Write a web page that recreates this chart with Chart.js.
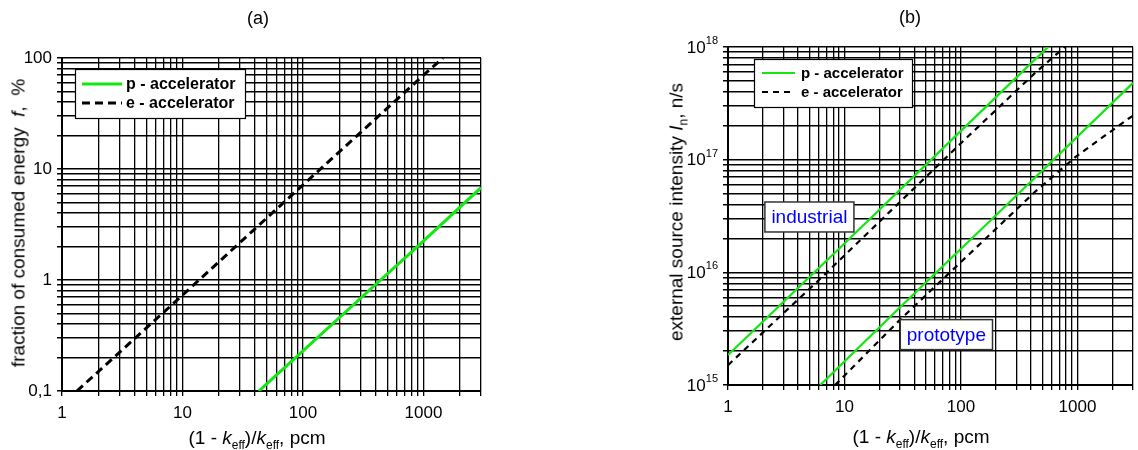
<!DOCTYPE html>
<html><head><meta charset="utf-8">
<script src="https://cdn.jsdelivr.net/npm/chart.js@4/dist/chart.umd.min.js"></script>
<style>
html,body{margin:0;padding:0;background:#fff;overflow:hidden;}
body{width:1138px;height:450px;position:relative;font-family:"Liberation Sans",Arial,sans-serif;}
.cw{position:absolute;top:0;height:450px;}
#wa{left:0;width:560px;}
#wb{left:560px;width:580px;}
.t{position:absolute;white-space:nowrap;color:#000;font-size:19px;line-height:1;transform:translate(-50%,-50%);}
.rot{transform:translate(-50%,-50%) rotate(-90deg);}
.sub{font-size:12px;position:relative;top:5px;}
</style></head><body>
<div class="cw" id="wa"><canvas id="ca" width="560" height="450"></canvas></div>
<div class="cw" id="wb"><canvas id="cb" width="580" height="450"></canvas></div>
<div class="t" style="left:258px;top:18px;font-size:18px;">(a)</div>
<div class="t" style="left:910px;top:17px;font-size:18px;">(b)</div>
<div class="t" style="left:257px;top:437px;">(1 - <i>k</i><span class="sub">eff</span>)/<i>k</i><span class="sub">eff</span>, pcm</div>
<div class="t" style="left:921px;top:436px;">(1 - <i>k</i><span class="sub">eff</span>)/<i>k</i><span class="sub">eff</span>, pcm</div>
<div class="t rot" style="left:17.5px;top:223px;">fraction of consumed energy&nbsp; <i>f</i>,&nbsp; %</div>
<div class="t rot" style="left:675.5px;top:212px;">external source intensity <i>I</i><span class="sub">n</span>, n/s</div>
<script>
// ---------------- data ----------------
const aXTickValues = [1, 10, 100, 1000];
const aXTickLabels = ['1', '10', '100', '1000'];
const aYTickValues = [0.1, 1, 10, 100];
const aYTickLabels = ['0,1', '1', '10', '100'];
const bXTickValues = [1, 10, 100, 1000];
const bXTickLabels = ['1', '10', '100', '1000'];
const bYTickValues = [1e15, 1e16, 1e17, 1e18];
const bYTickExponents = ['15', '16', '17', '18'];

const seriesNames = ['p - accelerator', 'e - accelerator'];

// (a) fraction of consumed energy f, %
const aP_x = [43, 100, 440, 828, 3000];
const aP_y = [0.1, 0.23, 1.0, 1.86, 6.8];
const aE_x = [1.33, 10, 100, 1000, 1450];
const aE_y = [0.1, 0.73, 7.2, 70, 100];

// (b) external source intensity, n/s
const bIndP_x = [1, 10, 100, 559];
const bIndP_y = [1.85e15, 1.8e16, 1.8e17, 1e18];
const bIndE_x = [1, 6, 100, 434, 777];
const bIndE_y = [1.5e15, 8.5e15, 1.4e17, 5.9e17, 1e18];
const bProtoP_x = [6.2, 30, 300, 3000];
const bProtoP_y = [1e15, 4.9e15, 4.8e16, 4.8e17];
const bProtoE_x = [8.3, 30, 434, 977, 2755, 3000];
const bProtoE_y = [1e15, 3.8e15, 5.2e16, 1.07e17, 2.32e17, 2.45e17];

const bAnnotTexts = ['industrial', 'prototype'];
const bAnnotX = [5.0, 75];
const bAnnotY = [3.1e16, 2.8e15];

// ---------------- helpers ----------------
const FONT = '"Liberation Sans", Arial, sans-serif';
const GREEN = '#10e810';

function pts(xs, ys) { return xs.map((x, i) => ({ x: x, y: ys[i] })); }

function logTicks(min, max) {
  const out = [];
  let d = Math.pow(10, Math.floor(Math.log10(min) + 1e-9));
  while (d <= max * 1.0001) {
    for (let m = 1; m <= 9; m++) {
      const v = +(m * d).toPrecision(6);
      if (v >= min * 0.9999 && v <= max * 1.0001) out.push(v);
    }
    d *= 10;
  }
  return out;
}
function labelFor(v, vals, labs) {
  for (let i = 0; i < vals.length; i++) {
    if (Math.abs(Math.log10(v) - Math.log10(vals[i])) < 1e-6) return labs[i];
  }
  return '';
}

function scaleCfg(axis, min, max, vals, labs, fixedSize, gridW) {
  return {
    type: 'logarithmic',
    position: axis === 'x' ? 'bottom' : 'left',
    min: min, max: max,
    afterBuildTicks: s => { s.ticks = logTicks(min, max).map(v => ({ value: v })); },
    afterFit: s => { if (axis === 'x') s.height = fixedSize; else s.width = fixedSize; },
    ticks: {
      autoSkip: false, maxRotation: 0, minRotation: 0,
      padding: axis === 'x' ? 7 : 5,
      color: '#000',
      font: { family: FONT, size: 17 },
      callback: v => labelFor(v, vals, labs)
    },
    grid: { color: '#000', lineWidth: gridW, tickLength: 5, tickColor: '#000', tickWidth: gridW, drawTicks: true },
    border: { display: true, color: '#000', width: 2 }
  };
}

function boxLegend(o) {
  return {
    id: 'boxLegend',
    afterDatasetsDraw(chart) {
      const ctx = chart.ctx, a = chart.chartArea;
      const x0 = a.left + o.dx, y0 = a.top + o.dy;
      ctx.save();
      ctx.fillStyle = '#fff';
      ctx.fillRect(x0, y0, o.w, o.h);
      ctx.strokeStyle = '#000';
      ctx.lineWidth = 1.2;
      ctx.strokeRect(x0 + 0.5, y0 + 0.5, o.w, o.h);
      for (let i = 0; i < 2; i++) {
        const ds = chart.data.datasets[i];
        const y = y0 + o.row0 + i * o.rowH;
        ctx.beginPath();
        ctx.setLineDash(ds.borderDash || []);
        ctx.strokeStyle = ds.borderColor;
        ctx.lineWidth = ds.borderWidth;
        ctx.moveTo(x0 + o.lx0, y);
        ctx.lineTo(x0 + o.lx1, y);
        ctx.stroke();
        ctx.setLineDash([]);
        ctx.fillStyle = '#000';
        ctx.font = 'bold ' + o.fs + 'px ' + FONT;
        ctx.textAlign = 'left';
        ctx.textBaseline = 'middle';
        ctx.fillText(seriesNames[i], x0 + o.tx, y + 1);
      }
      ctx.restore();
    }
  };
}

const annotPlugin = {
  id: 'annot',
  afterDatasetsDraw(chart) {
    const ctx = chart.ctx, xs = chart.scales.x, ys = chart.scales.y;
    ctx.save();
    ctx.font = '19px ' + FONT;
    ctx.textAlign = 'center';
    ctx.textBaseline = 'middle';
    for (let i = 0; i < bAnnotTexts.length; i++) {
      const px = xs.getPixelForValue(bAnnotX[i]);
      const py = ys.getPixelForValue(bAnnotY[i]);
      const w = ctx.measureText(bAnnotTexts[i]).width + 13;
      const h = 30;
      ctx.fillStyle = '#fff';
      ctx.fillRect(px - w / 2, py - h / 2, w, h);
      ctx.strokeStyle = '#333';
      ctx.lineWidth = 1.5;
      ctx.strokeRect(px - w / 2, py - h / 2, w, h);
      ctx.fillStyle = '#0000ff';
      ctx.fillText(bAnnotTexts[i], px, py + 1);
    }
    ctx.restore();
  }
};

const powLabels = {
  id: 'powLabels',
  afterDraw(chart) {
    const ctx = chart.ctx, ys = chart.scales.y, left = chart.chartArea.left;
    ctx.save();
    ctx.fillStyle = '#000';
    ctx.textAlign = 'right';
    ctx.textBaseline = 'middle';
    for (let i = 0; i < bYTickValues.length; i++) {
      const py = ys.getPixelForValue(bYTickValues[i]);
      ctx.font = '11px ' + FONT;
      const ew = ctx.measureText(bYTickExponents[i]).width;
      ctx.fillText(bYTickExponents[i], left - 10, py - 6);
      ctx.font = '17px ' + FONT;
      ctx.fillText('10', left - 10 - ew, py + 1);
    }
    ctx.restore();
  }
};

function lineDs(label, data, color, width, dash) {
  return { label: label, data: data, borderColor: color, backgroundColor: color, borderWidth: width,
           borderDash: dash, pointRadius: 0, pointHoverRadius: 0, fill: false, tension: 0 };
}

// ---------------- chart (a) ----------------
new Chart(document.getElementById('ca'), {
  type: 'line',
  data: {
    datasets: [
      lineDs(seriesNames[0], pts(aP_x, aP_y), GREEN, 3, []),
      lineDs(seriesNames[1], pts(aE_x, aE_y), '#000', 3, [8, 5])
    ]
  },
  options: {
    responsive: false, animation: false, devicePixelRatio: 1,
    layout: { padding: { top: 58, right: 79, bottom: 0, left: 0 } },
    plugins: { legend: { display: false }, tooltip: { enabled: false } },
    scales: {
      x: scaleCfg('x', 1, 3000, aXTickValues, aXTickLabels, 59, 1.3),
      y: scaleCfg('y', 0.1, 100, aYTickValues, aYTickLabels, 62, 1.5)
    }
  },
  plugins: [boxLegend({ dx: 13, dy: 11, w: 170, h: 49, row0: 15, rowH: 19, lx0: 7, lx1: 47, tx: 51, fs: 16 })]
});

// ---------------- chart (b) ----------------
const bY = scaleCfg('y', 1e15, 1e18, bYTickValues, bYTickExponents, 168, 1.5);
bY.ticks.callback = () => '';
new Chart(document.getElementById('cb'), {
  type: 'line',
  data: {
    datasets: [
      lineDs(seriesNames[0], pts(bIndP_x, bIndP_y), GREEN, 2.2, []),
      lineDs(seriesNames[1], pts(bIndE_x, bIndE_y), '#000', 2.2, [6, 5]),
      lineDs(seriesNames[0], pts(bProtoP_x, bProtoP_y), GREEN, 2.2, []),
      lineDs(seriesNames[1], pts(bProtoE_x, bProtoE_y), '#000', 2.2, [6, 5])
    ]
  },
  options: {
    responsive: false, animation: false, devicePixelRatio: 1,
    layout: { padding: { top: 47, right: 1, bottom: 0, left: 0 } },
    plugins: { legend: { display: false }, tooltip: { enabled: false } },
    scales: {
      x: scaleCfg('x', 1, 3000, bXTickValues, bXTickLabels, 65, 1.3),
      y: bY
    }
  },
  plugins: [boxLegend({ dx: 26, dy: 12, w: 158, h: 48, row0: 14, rowH: 19, lx0: 8, lx1: 41, tx: 47, fs: 15 }), annotPlugin, powLabels]
});
</script>
</body></html>
